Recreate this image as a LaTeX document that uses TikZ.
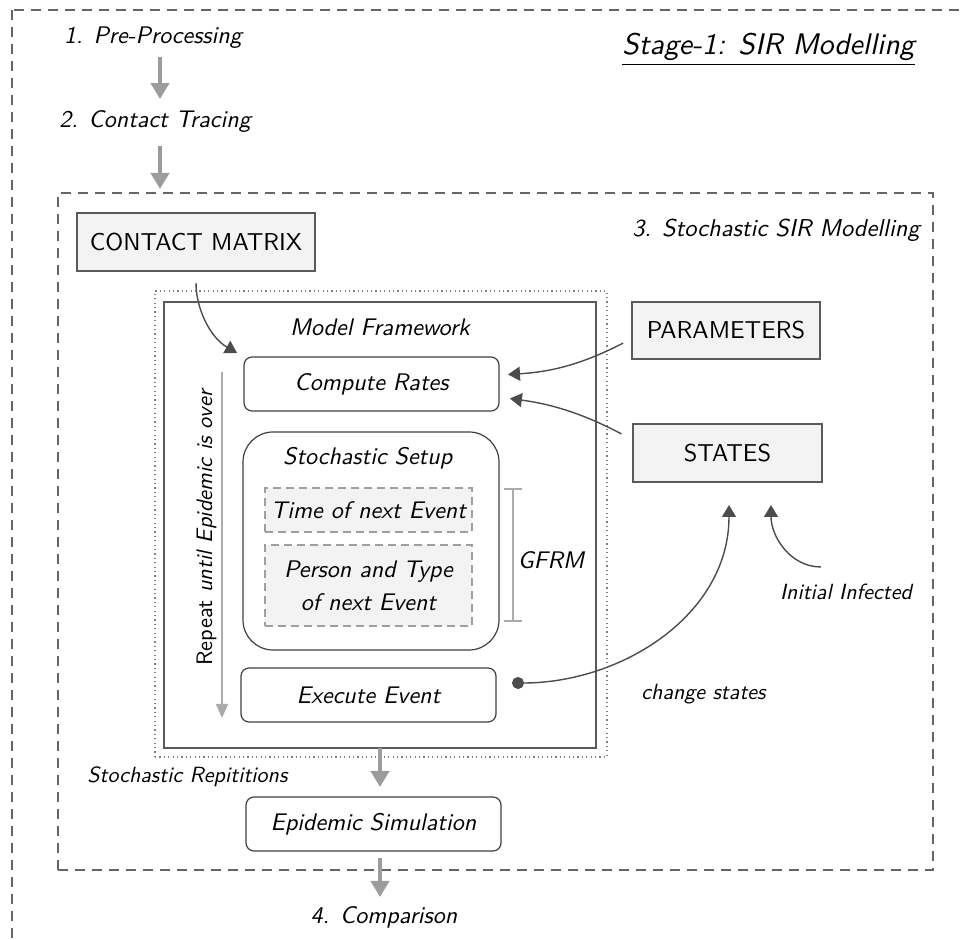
\documentclass[tikz,border=0pt]{standalone}
\usepackage{fontspec}
\setsansfont{lmsans10}[Extension=.otf, UprightFont=*-regular, ItalicFont=*-oblique]
\usetikzlibrary{arrows.meta,calc}
\definecolor{boxfill}{HTML}{F3F3F3}
\definecolor{edge}{HTML}{5A5A5A}
\definecolor{darkarrow}{HTML}{4C4C4C}
\definecolor{lightarrow}{HTML}{9C9C9C}
\definecolor{framegray}{HTML}{666666}
\definecolor{bargray}{HTML}{ABABAB}
\definecolor{dotgray}{HTML}{808080}
\begin{document}
\begin{tikzpicture}[x=0.5pt,y=0.5pt,
  every node/.style={inner sep=0pt, outer sep=0pt, text=black},
  lbl/.style={font=\sffamily\itshape\fontsize{12}{14}\selectfont, anchor=base},
  smalllbl/.style={font=\sffamily\itshape\fontsize{11}{13}\selectfont, anchor=base},
  inputbox/.style={draw=edge, fill=boxfill, line width=0.6pt,
    font=\sffamily\fontsize{12.2}{15}\selectfont},
  stepbox/.style={draw=black!75, rounded corners=4pt, line width=0.6pt,
    font=\sffamily\itshape\fontsize{12}{14}\selectfont,
    minimum width=127.5pt, minimum height=27pt},
  subbox/.style={draw=gray!75, dash pattern=on 4pt off 2.5pt, fill=boxfill, line width=0.6pt,
    font=\sffamily\itshape\fontsize{12}{16.5}\selectfont, align=center,
    minimum width=103.5pt},
  bigarrow/.style={draw=lightarrow, line width=2pt, -{Triangle[length=8pt,width=9pt]}},
  darkarr/.style={draw=darkarrow, line width=0.7pt, -{Triangle[length=6pt,width=7pt]}},
  dashframe/.style={draw=framegray, line width=0.6pt, dash pattern=on 5pt off 3.5pt},
]
\useasboundingbox (0,0) rectangle (965,-940);

% outer stage frame, running past the page edge
\begin{scope}
  \clip (0,0) rectangle (965,-940);
  \draw[dashframe] (12,-10) rectangle (1000,-1000);
\end{scope}

% stage headings
\node[lbl] (pre) at (153,-44) {1. Pre-Processing};
\node[lbl] (ct) at (155,-128) {2. Contact Tracing};
\node[font=\sffamily\itshape\fontsize{14.9}{18}\selectfont, anchor=base] (stage) at (768.5,-55) {\underline{Stage-1: SIR Modelling}};

% stochastic SIR frame
\node[dashframe, minimum width=437.5pt, minimum height=338.5pt] (sir) at (495.5,-531.5) {};
\node[font=\sffamily\itshape\fontsize{12.2}{14}\selectfont, anchor=base] (sirlbl) at (776,-237) {3. Stochastic SIR Modelling};

\coordinate (colx) at (160,0);
\draw[bigarrow, shorten <=4pt, shorten >=6pt] (pre.south -| colx) -- (ct.north -| colx);
\draw[bigarrow, shorten <=6.5pt] (ct.south -| colx) -- ([yshift=2pt]sir.north -| colx);

% inputs
\node[inputbox, minimum width=119pt, minimum height=29pt] (cm) at (196,-242) {CONTACT MATRIX};
\node[inputbox, minimum width=94pt, minimum height=28.5pt] (par) at (726,-330.5) {PARAMETERS};
\node[inputbox, minimum width=94.5pt, minimum height=29pt] (st) at (727.5,-453) {STATES};

% model framework
\node[draw=dotgray, line width=0.8pt, dash pattern=on 0.6pt off 1.6pt,
      minimum width=226pt, minimum height=233pt] (dot box) at (381,-524) {};
\node[draw=edge, line width=0.8pt, minimum width=216pt, minimum height=223pt] (mf) at (380,-525) {};
\node[lbl] (mflbl) at (380,-335.5) {Model Framework};

\node[stepbox] (cr) at (371.5,-384) {Compute Rates};
\node[draw=black!75, rounded corners=15pt, line width=0.6pt,
      minimum width=128pt, minimum height=109pt] (ss) at (371,-541) {};
\node[lbl] (sslbl) at (367.7,-465) {Stochastic Setup};
\node[subbox, minimum height=22pt] (tne) at (368.5,-510) {Time of next Event};
\node[subbox, minimum height=40.5pt] (pte) at (368.5,-585.5) {Person and Type\\of next Event};
\node[stepbox] (ex) at (368.5,-695) {Execute Event};

% GFRM bracket
\coordinate (gtop) at (513,-488);
\coordinate (gbot) at (513,-622);
\draw[draw=bargray, line width=0.8pt, {Bar[width=9pt]}-{Bar[width=9pt]}] (gtop) -- (gbot);
\node[lbl] (gfrm) at (551,-569) {GFRM};

% repeat loop
\coordinate (reptop) at (222,-372);
\coordinate (repbot) at (222,-718);
\draw[draw=bargray, line width=0.8pt, -{Triangle[length=7pt,width=6pt]}] (reptop) -- (repbot);
\node[font=\sffamily\fontsize{11.2}{14}\selectfont, anchor=base, rotate=90] (replbl) at (212,-527)
  {Repeat \textit{until Epidemic is over}};

% connectors into the framework
\draw[darkarr, shorten <=6pt, shorten >=4pt] (cm.south) to[out=-90, in=150] (cr.north west);
\draw[darkarr, shorten <=5pt, shorten >=4.5pt] ([yshift=-4pt]par.west) to[bend left=12] ([yshift=4.5pt]cr.east);
\draw[darkarr, shorten <=6.5pt, shorten >=5.5pt] ([yshift=6.5pt]st.west) to[bend right=10] ([yshift=-6.5pt]cr.east);

% state updates
\coordinate (exdot) at (512,-683);
\draw[darkarr, {Circle[length=6pt]}-{Triangle[length=6pt,width=7pt]}] (exdot)
  to[out=0, in=-90] ([xshift=0.75pt, yshift=-11.5pt]st.south);
\node[smalllbl] (chg) at (703.5,-700) {change states};

\node[smalllbl] (ii) at (846,-600) {Initial Infected};
\coordinate (iistart) at (821,-567);
\draw[darkarr] (iistart) to[out=180, in=-90] ([xshift=21.75pt, yshift=-11.5pt]st.south);

% results
\node[smalllbl] (rep) at (187.5,-783) {Stochastic Repititions};
\node[stepbox] (es) at (373.5,-824) {Epidemic Simulation};
\node[lbl] (cmp) at (384,-924) {4. Comparison};
\draw[bigarrow, shorten >=5pt] (mf.south) -- (mf.south |- es.north);
\draw[bigarrow, shorten <=3.5pt] (mf.south |- es.south) -- ([yshift=-23pt]mf.south |- es.south);

\end{tikzpicture}
\end{document}
